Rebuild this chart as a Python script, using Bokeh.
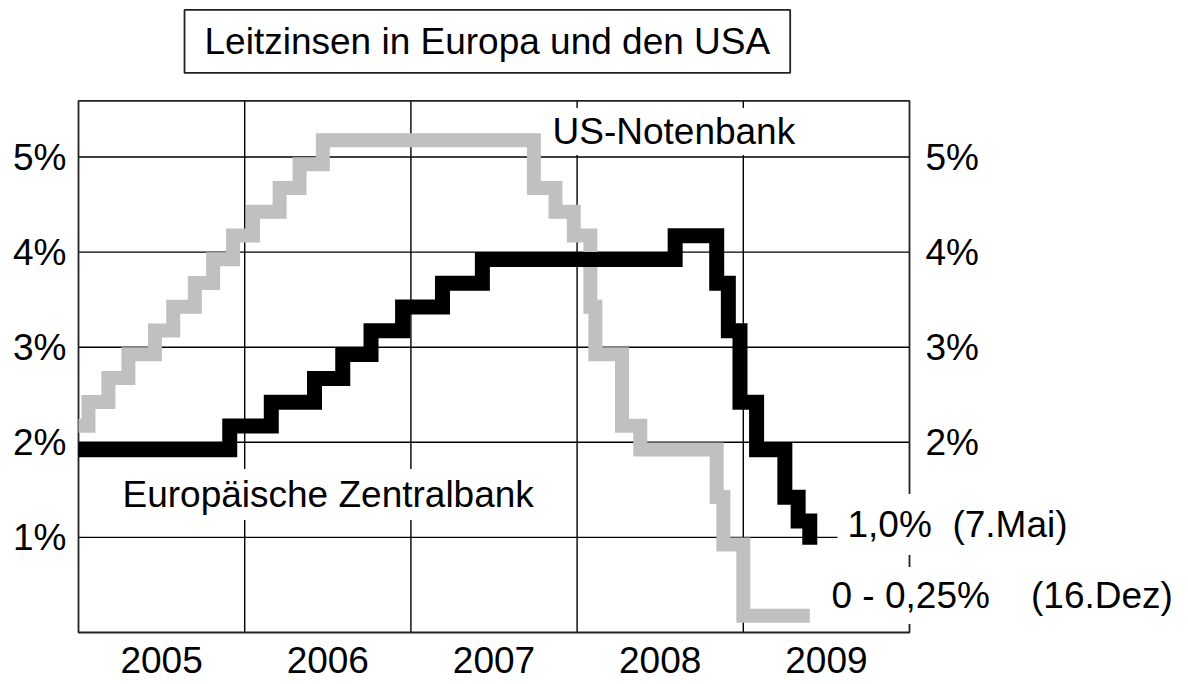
from bokeh.plotting import figure
from bokeh.models import Range1d, FixedTicker, LinearAxis, Label, ColumnDataSource
from bokeh.transform import dodge
from bokeh.embed import file_html
from bokeh.resources import INLINE

# ---- data ----
fed_dates = [2005.00, 2005.06, 2005.18, 2005.30, 2005.46, 2005.57, 2005.70, 2005.81,
             2005.93, 2006.05, 2006.21, 2006.33, 2006.47, 2007.74, 2007.87, 2007.98,
             2008.08, 2008.11, 2008.27, 2008.38, 2008.84, 2008.88, 2009.00, 2009.40]
fed_rates = [2.25, 2.50, 2.75, 3.00, 3.25, 3.50, 3.75, 4.00,
             4.25, 4.50, 4.75, 5.00, 5.25, 4.75, 4.50, 4.25,
             3.50, 3.00, 2.25, 2.00, 1.50, 1.00, 0.25, 0.25]

ecb_dates = [2005.00, 2005.91, 2006.16, 2006.42, 2006.59, 2006.76, 2006.95, 2007.19,
             2007.43, 2008.59, 2008.84, 2008.91, 2008.98, 2009.08, 2009.25, 2009.33,
             2009.40]
ecb_rates = [2.00, 2.25, 2.50, 2.75, 3.00, 3.25, 3.50, 3.75,
             4.00, 4.25, 3.75, 3.25, 2.50, 2.00, 1.50, 1.25,
             1.00]

year_labels = ["2005", "2006", "2007", "2008", "2009"]
year_centers = [2005.5, 2006.5, 2007.5, 2008.5, 2009.5]
year_bounds = [2006, 2007, 2008, 2009]
pct_ticks = [1, 2, 3, 4, 5]
pct_labels = ["1%", "2%", "3%", "4%", "5%"]
right_ticks = [2, 3, 4, 5]
right_labels = ["2%", "3%", "4%", "5%"]

NB = "\u00a0"
title_text = "Leitzinsen in Europa und den USA"
fed_name = "US-Notenbank"
ecb_name = "Europäische Zentralbank"
ecb_note = "1,0%" + NB * 2 + "(7.Mai)"
fed_note = "0 - 0,25%" + NB * 4 + "(16.Dez)"

# chart box extent (data units)
X0, X1 = 2005, 2010
Y0, Y1 = 0, 5.59

FONT = "Liberation Sans"
FS = "37px"

# layout constants (pixels)
W, H = 1188, 684
PX_YEAR = 166.2
PX_PCT = 95.1
BOX_LEFT, BOX_BOTTOM = 78, 632
PAD = 2
frame_left = BOX_LEFT - PAD
frame_bottom = BOX_BOTTOM + PAD

xr = Range1d(X0 - PAD / PX_YEAR, X0 + (W - BOX_LEFT) / PX_YEAR)
yr = Range1d(Y0 - PAD / PX_PCT, Y0 + BOX_BOTTOM / PX_PCT)

p = figure(width=W, height=H, output_backend="svg", toolbar_location=None,
           x_range=xr, y_range=yr,
           min_border_left=frame_left, min_border_right=0, min_border_top=0,
           min_border_bottom=H - frame_bottom)
p.outline_line_color = None
p.xgrid.visible = False
p.ygrid.visible = False
p.background_fill_color = "white"
p.border_fill_color = "white"

# axes
xa = p.xaxis[0]
xa.ticker = FixedTicker(ticks=year_centers)
xa.major_label_overrides = {c: l for c, l in zip(year_centers, year_labels)}

ya = p.yaxis[0]
ya.ticker = FixedTicker(ticks=pct_ticks)
ya.major_label_overrides = {t: l for t, l in zip(pct_ticks, pct_labels)}

ra = LinearAxis(ticker=FixedTicker(ticks=right_ticks), fixed_location=X1,
                major_label_overrides={t: l for t, l in zip(right_ticks, right_labels)})
p.add_layout(ra, "right")

for ax, so in ((xa, 6), (ya, 4), (ra, 10)):
    ax.axis_line_color = None
    ax.major_tick_line_color = None
    ax.minor_tick_line_color = None
    ax.major_label_text_font = FONT
    ax.major_label_text_font_size = FS
    ax.major_label_text_color = "black"
    ax.major_label_standoff = so

# grid lines and chart box
p.segment(x0=year_bounds, y0=[Y0] * len(year_bounds), x1=year_bounds, y1=[Y1] * len(year_bounds),
          line_color="black", line_width=1.4)
p.segment(x0=[X0] * len(pct_ticks), y0=pct_ticks, x1=[X1] * len(pct_ticks), y1=pct_ticks,
          line_color="black", line_width=1.4)
p.quad(left=[X0], right=[X1], bottom=[Y0], top=[Y1], fill_color=None,
       line_color="#222222", line_width=1.8)

# step lines (ECB drawn on top)
fed_src = ColumnDataSource(dict(x=fed_dates, y=fed_rates))
ecb_src = ColumnDataSource(dict(x=ecb_dates, y=ecb_rates))
p.step(x="x", y=dodge("y", -0.075, range=p.y_range), source=fed_src, mode="after",
       line_color="#c0c0c0", line_width=14, line_join="miter", line_cap="butt")
p.step(x="x", y=dodge("y", -0.078, range=p.y_range), source=ecb_src, mode="after",
       line_color="black", line_width=15, line_join="miter", line_cap="butt")

# text annotations (white background hides grid/box lines behind them)
def note(px_left, px_baseline, text, pad):
    # position given as the text's left edge / baseline in pixels of the chart box
    x = X0 + (px_left - BOX_LEFT - pad) / PX_YEAR
    y = Y0 + (BOX_BOTTOM - px_baseline + pad + 7) / PX_PCT
    L = Label(x=x, y=y, text=text, text_font=FONT, text_font_size=FS,
              text_color="black", text_align="left", text_baseline="alphabetic",
              background_fill_color="white", padding=pad)
    p.add_layout(L)
    return L

note(552, 141, fed_name, 3)
note(122, 506, ecb_name, 5)
note(847, 541, ecb_note, 10)
note(831, 610, fed_note, 8)

title = Label(x=2007.46, y=6.215, text=title_text, text_font=FONT, text_font_size=FS,
              text_color="black", text_align="center", text_baseline="middle",
              background_fill_color="white",
              padding=dict(top=11, bottom=11, left=20, right=20),
              border_line_color="#222222", border_line_width=1.8)
p.add_layout(title)

open("out.html", "w").write(file_html(p, INLINE))
